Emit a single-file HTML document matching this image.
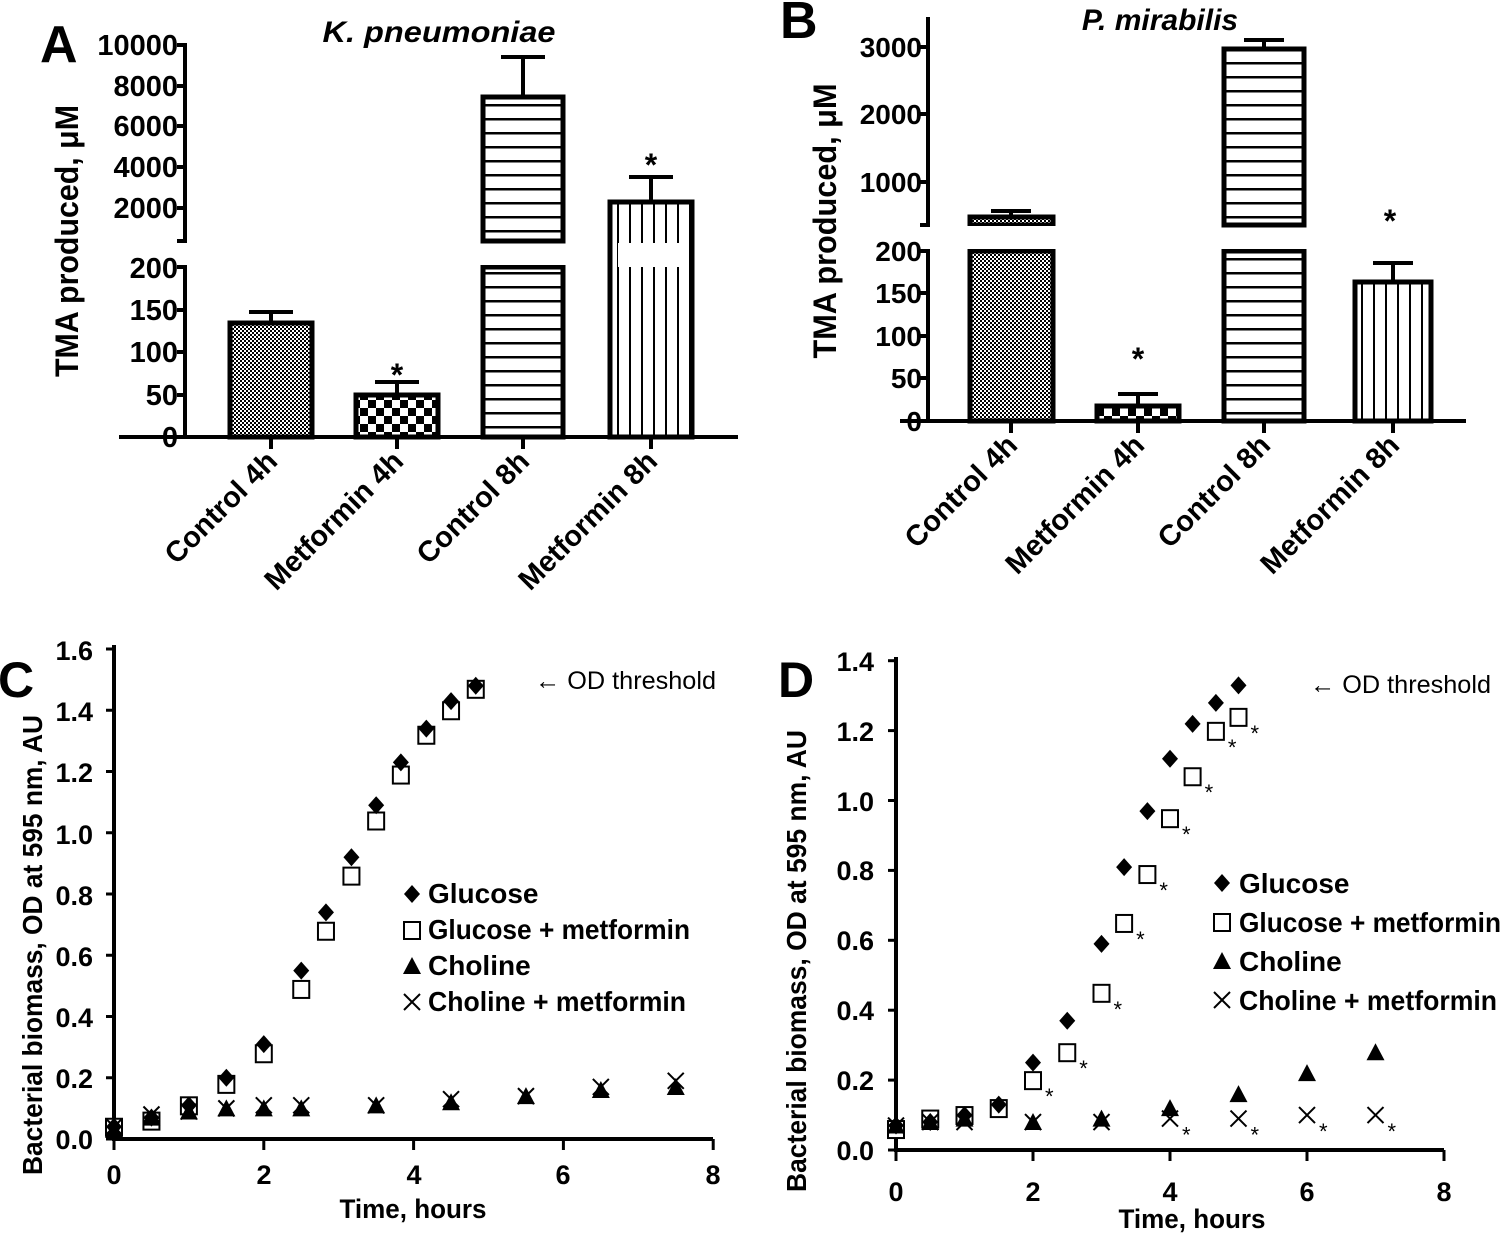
<!DOCTYPE html>
<html><head><meta charset="utf-8"><style>
html,body{margin:0;padding:0;background:#fff}
svg{display:block}
.t{font-family:"Liberation Sans",Arial,sans-serif;font-weight:bold;fill:#000}
.n{font-family:"Liberation Sans Narrow","Liberation Sans",Arial,sans-serif;font-weight:bold;fill:#000}
</style></head><body>
<svg id="s" width="1502" height="1237" viewBox="0 0 1502 1237" xmlns="http://www.w3.org/2000/svg">
<defs>
<pattern id="pf" width="4" height="4" patternUnits="userSpaceOnUse"><rect width="4" height="4" fill="#fff"/><rect width="2" height="2" fill="#000"/><rect x="2" y="2" width="2" height="2" fill="#000"/></pattern>
<pattern id="pc" width="16" height="16" patternUnits="userSpaceOnUse"><rect width="16" height="16" fill="#fff"/><rect width="8" height="8" fill="#000"/><rect x="8" y="8" width="8" height="8" fill="#000"/></pattern>
<pattern id="ph" width="10" height="14" patternUnits="userSpaceOnUse"><rect width="10" height="14" fill="#fff"/><rect y="6" width="10" height="2.5" fill="#000"/></pattern>
<pattern id="pv" width="12" height="10" patternUnits="userSpaceOnUse"><rect width="12" height="10" fill="#fff"/><rect x="5" width="2" height="10" fill="#000"/></pattern>
</defs>
<g id="g"></g>
<!-- Panel A texts -->
<text class="t" x="40" y="62" font-size="52">A</text>
<text class="t" x="439" y="42" font-size="30" font-style="italic" text-anchor="middle" textLength="233" lengthAdjust="spacingAndGlyphs">K. pneumoniae</text>
<text class="t" font-size="32" text-anchor="middle" transform="translate(78,241) rotate(-90)" textLength="272" lengthAdjust="spacingAndGlyphs">TMA produced, μM</text>
<g class="t" font-size="29" text-anchor="end">
<text x="178" y="55">10000</text><text x="178" y="96">8000</text><text x="178" y="136">6000</text><text x="178" y="177">4000</text><text x="178" y="218">2000</text>
<text x="178" y="278">200</text><text x="178" y="320">150</text><text x="178" y="362">100</text><text x="178" y="405">50</text><text x="178" y="447">0</text>
</g>
<g class="t" font-size="29" text-anchor="end">
<text transform="translate(279,463) rotate(-45)">Control 4h</text>
<text transform="translate(405,463) rotate(-45)">Metformin 4h</text>
<text transform="translate(531,463) rotate(-45)">Control 8h</text>
<text transform="translate(659,463) rotate(-45)">Metformin 8h</text>
</g>
<text class="t" x="397" y="386" font-size="32" text-anchor="middle">*</text>
<text class="t" x="651" y="176" font-size="32" text-anchor="middle">*</text>
<!-- Panel B texts -->
<text class="t" x="780" y="38" font-size="52">B</text>
<text class="t" x="1160" y="30" font-size="30" font-style="italic" text-anchor="middle">P. mirabilis</text>
<text class="t" font-size="32" text-anchor="middle" transform="translate(836,221) rotate(-90)" textLength="275" lengthAdjust="spacingAndGlyphs">TMA produced, μM</text>
<g class="t" font-size="28" text-anchor="end">
<text x="922" y="57">3000</text><text x="922" y="124">2000</text><text x="922" y="192">1000</text>
<text x="922" y="261">200</text><text x="922" y="303">150</text><text x="922" y="346">100</text><text x="922" y="388">50</text><text x="922" y="431">0</text>
</g>
<g class="t" font-size="29" text-anchor="end">
<text transform="translate(1019,447) rotate(-45)">Control 4h</text>
<text transform="translate(1146,447) rotate(-45)">Metformin 4h</text>
<text transform="translate(1272,447) rotate(-45)">Control 8h</text>
<text transform="translate(1401,447) rotate(-45)">Metformin 8h</text>
</g>
<text class="t" x="1138" y="370" font-size="32" text-anchor="middle">*</text>
<text class="t" x="1390" y="232" font-size="32" text-anchor="middle">*</text>
<!-- Panel C texts -->
<text class="n" x="-2" y="697" font-size="50">C</text>
<text class="n" font-size="28" text-anchor="middle" transform="translate(42,945) rotate(-90)" textLength="460" lengthAdjust="spacingAndGlyphs">Bacterial biomass, OD at 595 nm, AU</text>
<g class="n" font-size="27" text-anchor="end">
<text x="93" y="660">1.6</text><text x="93" y="721">1.4</text><text x="93" y="782">1.2</text><text x="93" y="844">1.0</text><text x="93" y="905">0.8</text><text x="93" y="966">0.6</text><text x="93" y="1027">0.4</text><text x="93" y="1088">0.2</text><text x="93" y="1149">0.0</text>
</g>
<g class="n" font-size="27" text-anchor="middle">
<text x="114" y="1184">0</text><text x="264" y="1184">2</text><text x="414" y="1184">4</text><text x="563" y="1184">6</text><text x="713" y="1184">8</text>
<text x="413" y="1218" textLength="147" lengthAdjust="spacingAndGlyphs">Time, hours</text>
</g>
<text x="535" y="689" font-size="25" font-family="Liberation Sans Narrow, Liberation Sans, sans-serif" textLength="181" lengthAdjust="spacingAndGlyphs">← OD threshold</text>
<g class="n" font-size="28">
<text x="428" y="903">Glucose</text><text x="428" y="939" textLength="262" lengthAdjust="spacingAndGlyphs">Glucose + metformin</text><text x="428" y="975">Choline</text><text x="428" y="1011" textLength="258" lengthAdjust="spacingAndGlyphs">Choline + metformin</text>
</g>
<!-- Panel D texts -->
<text class="n" x="778" y="697" font-size="50">D</text>
<text class="n" font-size="28" text-anchor="middle" transform="translate(806,961) rotate(-90)" textLength="462" lengthAdjust="spacingAndGlyphs">Bacterial biomass, OD at 595 nm, AU</text>
<g class="n" font-size="27" text-anchor="end">
<text x="874" y="671">1.4</text><text x="874" y="741">1.2</text><text x="874" y="811">1.0</text><text x="874" y="880">0.8</text><text x="874" y="950">0.6</text><text x="874" y="1020">0.4</text><text x="874" y="1090">0.2</text><text x="874" y="1160">0.0</text>
</g>
<g class="n" font-size="27" text-anchor="middle">
<text x="896" y="1201">0</text><text x="1033" y="1201">2</text><text x="1170" y="1201">4</text><text x="1307" y="1201">6</text><text x="1444" y="1201">8</text>
<text x="1192" y="1228" textLength="147" lengthAdjust="spacingAndGlyphs">Time, hours</text>
</g>
<text x="1310" y="693" font-size="25" font-family="Liberation Sans Narrow, Liberation Sans, sans-serif" textLength="181" lengthAdjust="spacingAndGlyphs">← OD threshold</text>
<g class="n" font-size="28">
<text x="1239" y="893">Glucose</text><text x="1239" y="932" textLength="262" lengthAdjust="spacingAndGlyphs">Glucose + metformin</text><text x="1239" y="971">Choline</text><text x="1239" y="1010" textLength="258" lengthAdjust="spacingAndGlyphs">Choline + metformin</text>
</g>
</svg>
<script>
var g=document.getElementById('g'),h='';
function L(x1,y1,x2,y2,w){h+='<line x1="'+x1+'" y1="'+y1+'" x2="'+x2+'" y2="'+y2+'" stroke="#000" stroke-width="'+(w||4)+'"/>';}
function R(x,y,w,hh,f){h+='<rect x="'+x+'" y="'+y+'" width="'+w+'" height="'+hh+'" fill="'+f+'" stroke="#000" stroke-width="5"/>';}
function E(cx,y1,y2,hw){L(cx,y1,cx,y2,4);L(cx-hw,y2,cx+hw,y2,4);}
// Panel A
L(185,43,185,241);L(185,267,185,437);L(119,437,738,437);
[45,86,126,167,208,241].forEach(function(y){L(177,y,187,y);});
[267,310,352,395].forEach(function(y){L(177,y,187,y);});
[271,397,523,651].forEach(function(x){L(x,437,x,449);});
E(271,323,312,22);R(230,323,82,114,'url(#pf)');
E(397,395,382,22);R(356,395,82,42,'url(#pc)');
E(523,97,57,22);R(483,97,80,144,'url(#ph)');R(483,267,80,170,'url(#ph)');
h+='<rect x="480" y="244" width="86" height="21" fill="#fff"/>';
E(651,202,177,22);R(610,202,82,235,'url(#pv)');
h+='<rect x="618" y="243" width="68" height="24" fill="#fff"/>';
// Panel B
L(928,17,928,225);L(928,251,928,421);L(900,421,1466,421);
[47,114,182,225,251,293,336,378].forEach(function(y){L(920,y,930,y);});
[1011,1138,1264,1393].forEach(function(x){L(x,421,x,433);});
E(1011,217,211,20);R(970,217,83,8,'url(#pf)');R(970,251,83,170,'url(#pf)');
h+='<rect x="967" y="226" width="90" height="23" fill="#fff"/>';
E(1138,406,394,20);R(1097,406,82,15,'url(#pc)');
E(1264,49,40,20);R(1224,49,80,176,'url(#ph)');R(1224,251,80,170,'url(#ph)');
h+='<rect x="1220" y="228" width="88" height="21" fill="#fff"/>';
E(1393,282,263,20);R(1355,282,76,139,'url(#pv)');
// Panel C axes
L(114,645,114,1141);L(112,1139,713,1139);
for(var i=0;i<=8;i++){var yy=1139-i*61.25;L(106,yy,116,yy,3);}
[0,2,4,6,8].forEach(function(t){var x=114+t*74.9;L(x,1139,x,1150,3);});
// Panel D axes
L(896,657,896,1152);L(894,1150,1444,1150);
for(var i=0;i<=7;i++){var yy=1150-i*69.9;L(888,yy,898,yy,3);}
[0,2,4,6,8].forEach(function(t){var x=896+t*68.5;L(x,1150,x,1161,3);});
function dia(x,y){h+='<polygon points="'+x+','+(y-9)+' '+(x+8)+','+y+' '+x+','+(y+9)+' '+(x-8)+','+y+'" fill="#000"/>';}
function sq(x,y){h+='<rect x="'+(x-8)+'" y="'+(y-8)+'" width="16" height="17" fill="#fff" stroke="#000" stroke-width="2"/>';}
function tri(x,y){h+='<polygon points="'+x+','+(y-9)+' '+(x+9)+','+(y+8)+' '+(x-9)+','+(y+8)+'" fill="#000"/>';}
function cr(x,y){h+='<path d="M'+(x-8)+' '+(y-8)+'L'+(x+8)+' '+(y+8)+'M'+(x+8)+' '+(y-8)+'L'+(x-8)+' '+(y+8)+'" stroke="#000" stroke-width="2"/>';}
function st(x,y){h+='<text x="'+(x+12)+'" y="'+(y+24)+'" font-size="22" font-family="Liberation Sans,sans-serif">*</text>';}
function plot(px,py,data,fn,star){data.forEach(function(d){var x=px(d[0]),y=py(d[1]);fn(x,y);if(star&&d[2])st(x,y);});}
var cx=function(t){return 114+t*74.9},cy=function(v){return 1139-v*306.25};
plot(cx,cy,[[0,.04],[.5,.06],[1,.11],[1.5,.18],[2,.28],[2.5,.49],[2.83,.68],[3.17,.86],[3.5,1.04],[3.83,1.19],[4.17,1.32],[4.5,1.40],[4.83,1.47]],sq);
plot(cx,cy,[[0,.04],[.5,.07],[1,.11],[1.5,.20],[2,.31],[2.5,.55],[2.83,.74],[3.17,.92],[3.5,1.09],[3.83,1.23],[4.17,1.34],[4.5,1.43],[4.83,1.48]],dia);
plot(cx,cy,[[0,.03],[.5,.07],[1,.09],[1.5,.10],[2,.10],[2.5,.10],[3.5,.11],[4.5,.12],[5.5,.14],[6.5,.16],[7.5,.17]],tri);
plot(cx,cy,[[0,.04],[.5,.08],[1,.09],[1.5,.10],[2,.11],[2.5,.11],[3.5,.11],[4.5,.13],[5.5,.14],[6.5,.17],[7.5,.19]],cr);
var dx=function(t){return 896+t*68.5},dy=function(v){return 1150-v*349.3};
plot(dx,dy,[[0,.06],[.5,.09],[1,.10],[1.5,.12],[2,.20,1],[2.5,.28,1],[3,.45,1],[3.33,.65,1],[3.67,.79,1],[4,.95,1],[4.33,1.07,1],[4.67,1.20,1],[5,1.24,1]],sq,1);
plot(dx,dy,[[0,.07],[.5,.08],[1,.10],[1.5,.13],[2,.25],[2.5,.37],[3,.59],[3.33,.81],[3.67,.97],[4,1.12],[4.33,1.22],[4.67,1.28],[5,1.33]],dia);
plot(dx,dy,[[0,.07],[.5,.08],[1,.09],[2,.08],[3,.09],[4,.12],[5,.16],[6,.22],[7,.28]],tri);
plot(dx,dy,[[0,.07],[.5,.08],[1,.08],[2,.08],[3,.08],[4,.09,1],[5,.09,1],[6,.10,1],[7,.10,1]],cr,1);
// legend markers
dia(412,894);sq(412,930);tri(412,966);cr(412,1002);
dia(1222,883);sq(1222,922);tri(1222,961);cr(1222,1000);
g.innerHTML=h;
</script>
</body></html>
